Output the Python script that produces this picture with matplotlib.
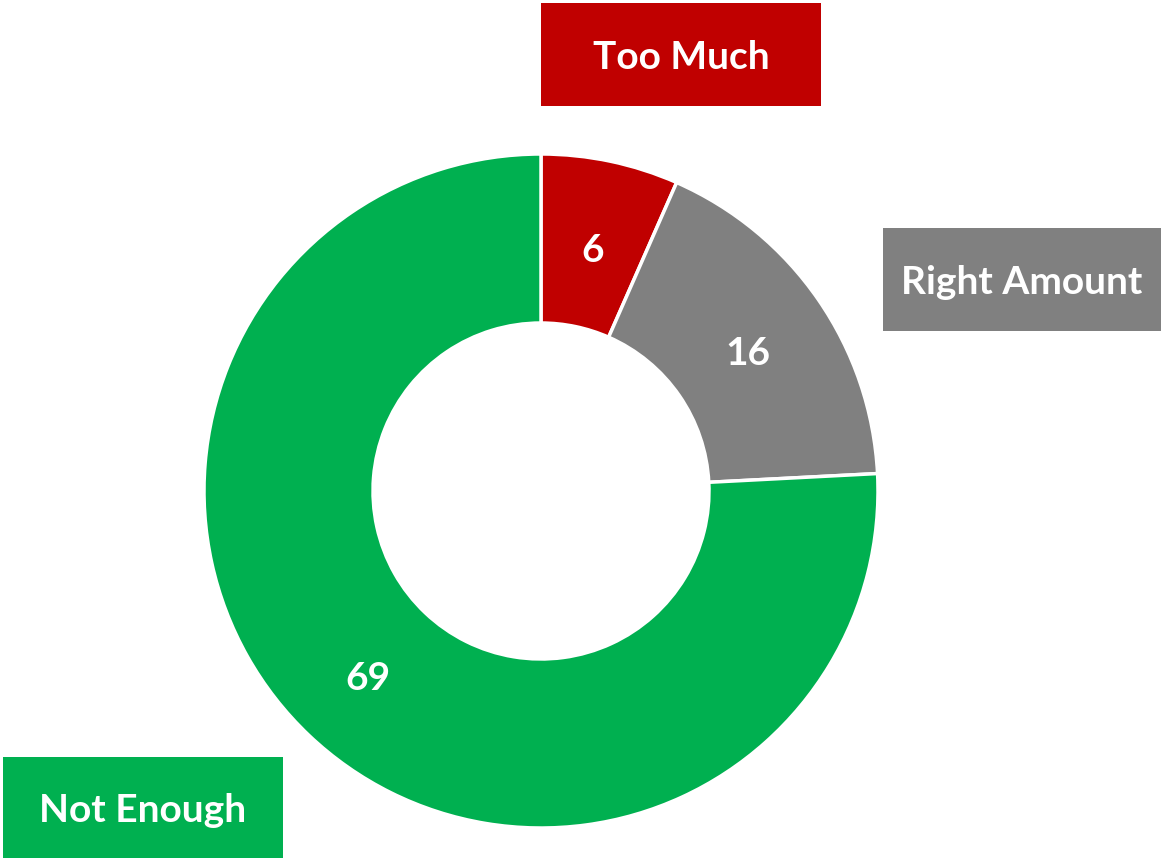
import matplotlib
matplotlib.use("Agg")
import matplotlib.pyplot as plt
from matplotlib.patches import Rectangle

categories = ["Too Much", "Right Amount", "Not Enough"]
values = [6, 16, 69]
colors = ["#C00000", "#808080", "#00B050"]

W, H = 1161, 859
fig = plt.figure(figsize=(W / 100, H / 100), dpi=100)
ax = fig.add_axes([0, 0, 1, 1])

total = sum(values)
R = 337
wedges, texts, autotexts = ax.pie(
    values, colors=colors, startangle=90, counterclock=False,
    radius=R, center=(541, H - 491),
    wedgeprops=dict(width=169, edgecolor="white", linewidth=2.5),
    autopct=lambda p: f"{round(p * total / 100)}", pctdistance=0.745,
    textprops=dict(color="white", fontsize=28, fontweight="bold", family="Lato"),
    frame=True,
)
for t in autotexts:
    x, y = t.get_position()
    t.set_position((x, y - 5))

ax.set_xlim(0, W)
ax.set_ylim(0, H)
ax.set_aspect("equal")
ax.axis("off")

box_specs = [
    (categories[0], colors[0], (541, 821, H - 106, H - 3)),
    (categories[1], colors[1], (883, 1161, H - 331, H - 228)),
    (categories[2], colors[2], (3, 283, H - 858, H - 757)),
]
for label, col, (x0, x1, y0, y1) in box_specs:
    ax.add_patch(Rectangle((x0, y0), x1 - x0, y1 - y0, facecolor=col, edgecolor="none"))
    ax.text((x0 + x1) / 2, (y0 + y1) / 2 - 3, label, color="white", fontsize=28,
            fontweight="bold", family="Lato", ha="center", va="center")

fig.savefig("out.png", dpi=100, facecolor="white")
